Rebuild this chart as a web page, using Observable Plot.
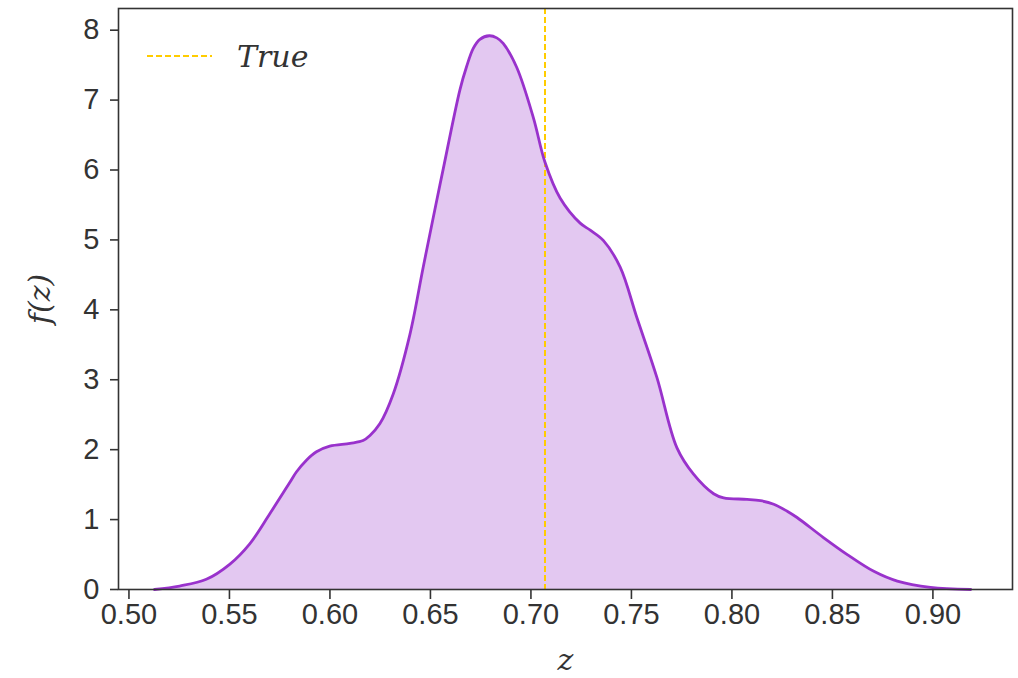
<!DOCTYPE html>
<html>
<head>
<meta charset="utf-8">
<script src="https://cdn.jsdelivr.net/npm/d3@7"></script>
<script src="https://cdn.jsdelivr.net/npm/@observablehq/plot@0.6"></script>
<style>
  html, body { margin: 0; padding: 0; background: #fff; }
  #wrap { position: relative; width: 1018px; height: 678px; }
  #legend { position: absolute; left: 0; top: 0; pointer-events: none; }
</style>
</head>
<body>
<div id="wrap"></div>
<script>
// Kernel density estimate of z
const zValues = [0.5127, 0.5252, 0.5385, 0.5501, 0.560, 0.570, 0.580, 0.5833, 0.5883, 0.5933,
  0.5999, 0.610, 0.6165, 0.6198, 0.6248, 0.6314, 0.6398, 0.6464, 0.6531, 0.6564,
  0.6647, 0.668, 0.6713, 0.6746, 0.6793, 0.6830, 0.6862, 0.6929, 0.7012, 0.7070,
  0.7145, 0.7245, 0.7295, 0.7361, 0.7444, 0.7527, 0.7627, 0.7726, 0.7809, 0.7909,
  0.7959, 0.8075, 0.8142, 0.8208, 0.8275, 0.8324, 0.8457, 0.8574, 0.8706, 0.8823,
  0.8988, 0.9188];
const density = [0.00, 0.05, 0.146, 0.36, 0.65, 1.08, 1.53, 1.68, 1.85, 1.97,
  2.05, 2.09, 2.13, 2.20, 2.37, 2.79, 3.65, 4.61, 5.56, 6.02,
  7.15, 7.48, 7.74, 7.87, 7.92, 7.89, 7.81, 7.47, 6.75, 6.11,
  5.60, 5.24, 5.14, 4.99, 4.61, 3.89, 3.03, 2.03, 1.65, 1.37,
  1.31, 1.29, 1.27, 1.22, 1.12, 1.03, 0.74, 0.50, 0.26, 0.12,
  0.03, 0.00];
const trueZ = [0.707];
const xTicks = [0.50, 0.55, 0.60, 0.65, 0.70, 0.75, 0.80, 0.85, 0.90];
const yTicks = [0, 1, 2, 3, 4, 5, 6, 7, 8];

const table = zValues.map((z, i) => ({z, f: density[i]}));

const ink = "#333333";
const purple = "#9932cc";
const gold = "#ffcc00";
const mathFont = "'DejaVu Serif', serif";

const chart = Plot.plot({
  width: 1018,
  height: 678,
  marginLeft: 118,
  marginRight: 6,
  marginTop: 8,
  marginBottom: 89,
  style: {fontFamily: "'Liberation Sans', Arial, sans-serif", fontSize: "29px", color: ink, background: "#fff"},
  x: {domain: [0.4948, 0.9396]},
  y: {domain: [0, 8.31]},
  marks: [
    Plot.areaY(table, {x: "z", y: "f", fill: purple, fillOpacity: 0.27, curve: "catmull-rom"}),
    Plot.ruleX(trueZ, {stroke: gold, strokeWidth: 2, strokeDasharray: "6,3"}),
    Plot.lineY(table, {x: "z", y: "f", stroke: purple, strokeWidth: 2.8, curve: "catmull-rom"}),
    Plot.frame({stroke: ink, strokeWidth: 1.6}),
    Plot.axisX({ticks: xTicks, tickFormat: d3.format(".2f"), tickSize: 10, tickPadding: 4, stroke: ink, strokeWidth: 1.6, label: null}),
    Plot.axisY({ticks: yTicks, tickFormat: d3.format("d"), tickSize: 8, tickPadding: 11, stroke: ink, strokeWidth: 1.6, label: null}),
    Plot.text(["z"], {frameAnchor: "bottom", lineAnchor: "middle", textAnchor: "middle", dy: 71, text: d => d, fontStyle: "italic", fontSize: 30, fill: ink, fontFamily: mathFont}),
    Plot.text(["f(z)"], {frameAnchor: "left", lineAnchor: "middle", textAnchor: "middle", dx: -78, rotate: -90, text: d => d, fontStyle: "italic", fontSize: 30, fill: ink, fontFamily: mathFont})
  ]
});

const wrap = document.getElementById("wrap");
wrap.appendChild(chart);

// Legend overlay in the upper-left corner of the frame
const legend = d3.select(wrap).append("svg")
  .attr("id", "legend")
  .attr("width", 400)
  .attr("height", 100);
legend.append("line")
  .attr("x1", 147).attr("x2", 212).attr("y1", 56).attr("y2", 56)
  .attr("stroke", gold).attr("stroke-width", 2).attr("stroke-dasharray", "6,3");
legend.append("text")
  .attr("x", 237).attr("y", 67)
  .attr("font-family", mathFont)
  .attr("font-style", "italic")
  .attr("font-size", 30)
  .attr("fill", ink)
  .text("True");
</script>
</body>
</html>
